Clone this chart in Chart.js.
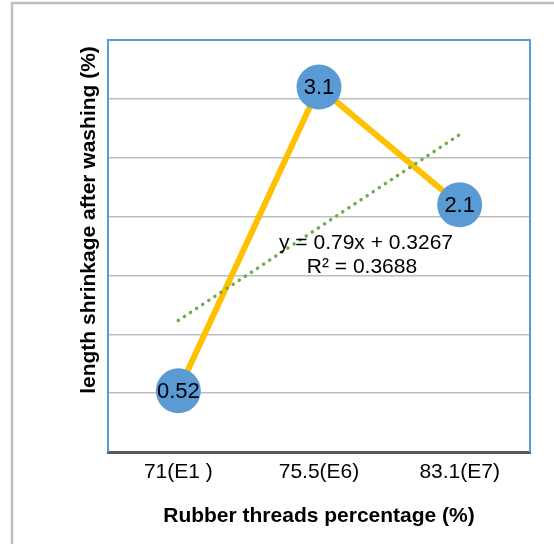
<!DOCTYPE html>
<html>
<head>
<meta charset="utf-8">
<script src="https://cdn.jsdelivr.net/npm/chart.js@4/dist/chart.umd.min.js"></script>
<style>
  html, body { margin: 0; padding: 0; background: #ffffff; }
  #wrap { width: 554px; height: 544px; position: relative; }
</style>
</head>
<body>
<div id="wrap"><canvas id="c" width="554" height="544"></canvas></div>
<script>
const categories = ["71(E1 )", "75.5(E6)", "83.1(E7)"];
const shrinkage = [0.52, 3.1, 2.1];
const trendValues = [1.117, 1.907, 2.697];
const trendEquation = "y = 0.79x + 0.3267";
const trendR2 = "R² = 0.3688";
const xTitle = "Rubber threads percentage (%)";
const yTitle = "length shrinkage after washing (%)";

const FONT = "'Liberation Sans', Arial, sans-serif";

const decor = {
  id: 'decor',
  beforeDraw(chart) {
    const ctx = chart.ctx;
    ctx.save();
    ctx.fillStyle = '#ffffff';
    ctx.fillRect(0, 0, chart.width, chart.height);
    ctx.strokeStyle = '#bfbfbf';
    ctx.lineWidth = 2.5;
    ctx.strokeRect(12, 3, 600, 600);
    ctx.restore();
  },
  beforeDatasetsDraw(chart) {
    const {ctx, chartArea: a} = chart;
    ctx.save();
    ctx.strokeStyle = '#5b9bd5';
    ctx.lineWidth = 2;
    ctx.beginPath();
    ctx.moveTo(a.left, a.bottom);
    ctx.lineTo(a.left, a.top);
    ctx.lineTo(a.right, a.top);
    ctx.lineTo(a.right, a.bottom);
    ctx.stroke();
    ctx.restore();
  },
  afterDatasetsDraw(chart) {
    const {ctx} = chart;
    ctx.save();
    const meta = chart.getDatasetMeta(1);
    ctx.font = '22px ' + FONT;
    ctx.fillStyle = '#000000';
    ctx.textAlign = 'center';
    ctx.textBaseline = 'middle';
    meta.data.forEach((p, i) => {
      ctx.fillText(String(shrinkage[i]), p.x, p.y + 1);
    });
    ctx.font = '21px ' + FONT;
    ctx.fillText(trendEquation, 366, 243);
    ctx.fillText(trendR2, 362, 267);
    ctx.font = 'bold 21px ' + FONT;
    ctx.translate(89, 220);
    ctx.rotate(-Math.PI / 2);
    ctx.fillText(yTitle, 0, 0);
    ctx.restore();
  }
};

new Chart(document.getElementById('c'), {
  type: 'line',
  data: {
    labels: categories,
    datasets: [
      {
        label: 'Linear trend',
        data: trendValues,
        borderColor: '#70ad47',
        borderWidth: 3.5,
        borderDash: [0.1, 7.2],
        borderCapStyle: 'round',
        pointRadius: 0,
        pointHoverRadius: 0,
        fill: false,
        tension: 0
      },
      {
        label: 'Shrinkage',
        data: shrinkage,
        borderColor: '#ffc000',
        borderWidth: 6,
        pointRadius: 22.5,
        pointHoverRadius: 22.5,
        pointBackgroundColor: '#5b9bd5',
        pointBorderWidth: 0,
        pointBorderColor: '#5b9bd5',
        fill: false,
        tension: 0
      }
    ]
  },
  options: {
    responsive: false,
    animation: false,
    events: [],
    layout: { padding: { left: 0, top: 40, right: 24, bottom: 0 } },
    plugins: {
      legend: { display: false },
      tooltip: { enabled: false },
      title: { display: false }
    },
    scales: {
      x: {
        offset: true,
        grid: { display: false, drawTicks: false },
        border: { display: true, color: '#595959', width: 3 },
        ticks: {
          color: '#000000',
          font: { family: FONT, size: 21 },
          padding: 8,
          maxRotation: 0,
          autoSkip: false
        },
        title: {
          display: true,
          text: xTitle,
          color: '#000000',
          font: { family: FONT, size: 21, weight: 'bold' },
          padding: { top: 0, bottom: 15 }
        },
        afterFit(s) { s.height = 92; }
      },
      y: {
        min: 0,
        max: 3.5,
        ticks: { display: false, stepSize: 0.5 },
        grid: {
          drawTicks: false,
          lineWidth: 1.5,
          color: (c) => (c.tick && (c.tick.value === 0 || c.tick.value === 3.5)) ? 'rgba(0,0,0,0)' : '#bdbdbd'
        },
        border: { display: false },
        title: { display: false },
        afterFit(s) { s.width = 108; }
      }
    }
  },
  plugins: [decor]
});
</script>
</body>
</html>
